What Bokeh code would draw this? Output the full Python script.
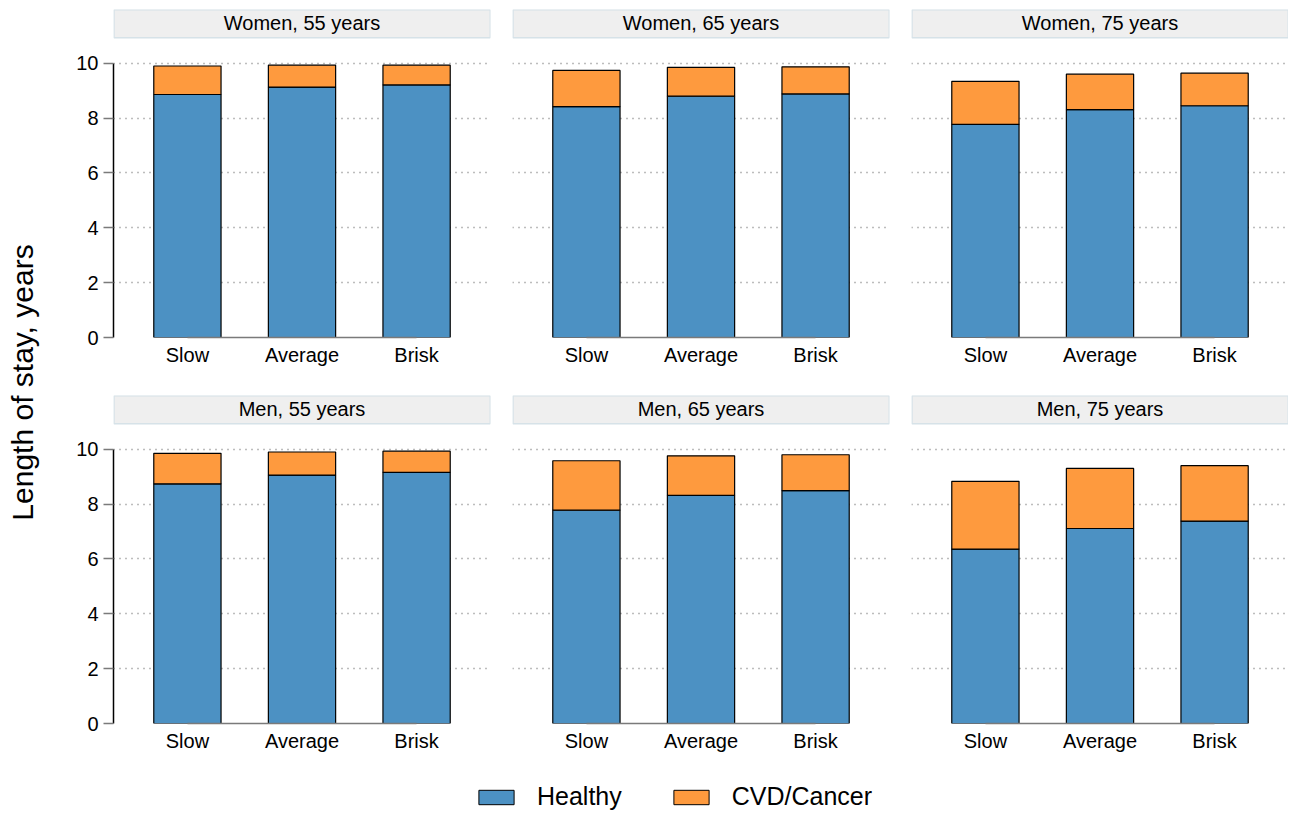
import math
from bokeh.plotting import figure
from bokeh.models import (FixedTicker, ColumnDataSource, Legend, LegendItem,
                          Label, Range1d)
from bokeh.layouts import row, column
from bokeh.embed import file_html
from bokeh.resources import INLINE
from bokeh.core.properties import value

# ---------------- data ----------------
categories = ["Slow", "Average", "Brisk"]
series_names = ["Healthy", "CVD/Cancer"]
panel_titles = ["Women, 55 years", "Women, 65 years", "Women, 75 years",
                "Men, 55 years", "Men, 65 years", "Men, 75 years"]

healthy_w55 = [8.86, 9.13, 9.21]
cvd_w55 = [1.04, 0.80, 0.72]
healthy_w65 = [8.42, 8.80, 8.88]
cvd_w65 = [1.32, 1.05, 0.99]
healthy_w75 = [7.77, 8.31, 8.45]
cvd_w75 = [1.57, 1.29, 1.19]
healthy_m55 = [8.74, 9.06, 9.16]
cvd_m55 = [1.11, 0.84, 0.77]
healthy_m65 = [7.78, 8.32, 8.49]
cvd_m65 = [1.80, 1.44, 1.31]
healthy_m75 = [6.36, 7.11, 7.38]
cvd_m75 = [2.47, 2.19, 2.02]

y_ticks = [0, 2, 4, 6, 8, 10]
y_label = "Length of stay, years"

# ---------------- style ----------------
FONT = "Liberation Sans"
BLUE = "#4C91C3"
ORANGE = "#FE9A3E"
GRAY = "#7A7A7A"
FRAME_W = 377
FRAME_H = 328
Y_END = 11.96

healthy_all = [healthy_w55, healthy_w65, healthy_w75, healthy_m55, healthy_m65, healthy_m75]
cvd_all = [cvd_w55, cvd_w65, cvd_w75, cvd_m55, cvd_m65, cvd_m75]


def make_panel(idx):
    col = idx % 3
    rw = idx // 3
    left = 55 if col == 0 else 11
    right = 0 if col == 2 else 11
    top = 9 if rw == 0 else 1
    bottom = 57 if rw == 0 else 40
    xr = Range1d(0.355, 3.645)
    p = figure(width=left + FRAME_W + right, height=top + FRAME_H + bottom,
               x_range=xr, y_range=Range1d(0, Y_END),
               output_backend="svg", toolbar_location=None,
               min_border_left=left, min_border_right=right,
               min_border_top=top, min_border_bottom=bottom)
    p.outline_line_color = None
    p.background_fill_color = "white"
    p.xgrid.visible = False
    p.ygrid.ticker = FixedTicker(ticks=y_ticks)
    p.ygrid.grid_line_color = GRAY
    p.ygrid.grid_line_dash = "1 5"
    p.ygrid.grid_line_width = 1.6

    xs = list(range(1, len(categories) + 1))
    src = ColumnDataSource(dict(x=xs, healthy=healthy_all[idx], cvd=cvd_all[idx]))
    p.vbar_stack(["healthy", "cvd"], x="x", width=0.587, source=src,
                 fill_color=[BLUE, ORANGE], line_color="black", line_width=1.2)

    # strip header
    p.quad(left=[xr.start + 0.004], right=[xr.end - 0.002],
           bottom=[10.93], top=[11.95],
           fill_color="#EFEFEF", line_color="#D6E2E8", line_width=1.5)
    p.text(x=[(xs[0] + xs[-1]) / 2], y=[11.46], text=[panel_titles[idx]],
           text_align="center", text_baseline="middle",
           text_font=value(FONT), text_font_size="20px", text_color="black")

    # x axis
    p.xaxis.ticker = FixedTicker(ticks=xs)
    p.xaxis.major_label_overrides = {x: c for x, c in zip(xs, categories)}
    p.xaxis.bounds = (xs[0], xs[-1])
    p.xaxis.axis_line_color = GRAY
    p.xaxis.axis_line_width = 1.5
    p.xaxis.major_tick_line_color = None
    p.xaxis.minor_tick_line_color = None
    p.xaxis.major_tick_out = 0
    p.xaxis.major_tick_in = 0
    p.xaxis.major_label_standoff = 6
    p.xaxis.major_label_text_font = FONT
    p.xaxis.major_label_text_font_size = "20px"
    p.xaxis.major_label_text_color = "black"

    # y axis
    if col == 0:
        p.yaxis.ticker = FixedTicker(ticks=y_ticks)
        p.yaxis.bounds = (y_ticks[0], y_ticks[-1])
        p.yaxis.axis_line_color = "black"
        p.yaxis.axis_line_width = 1.5
        p.yaxis.major_tick_line_color = GRAY
        p.yaxis.major_tick_line_width = 1.5
        p.yaxis.major_tick_out = 10
        p.yaxis.major_tick_in = 0
        p.yaxis.minor_tick_line_color = None
        p.yaxis.major_label_standoff = 5
        p.yaxis.major_label_text_font = FONT
        p.yaxis.major_label_text_font_size = "20px"
        p.yaxis.major_label_text_color = "black"
    else:
        p.yaxis.visible = False
    return p


panels = [make_panel(i) for i in range(6)]
rows_h = panels[0].height + panels[3].height

# y label figure
ylab = figure(width=58, height=rows_h, x_range=Range1d(0, 1), y_range=Range1d(0, 1),
              output_backend="svg", toolbar_location=None,
              min_border_left=0, min_border_right=0, min_border_top=0, min_border_bottom=0)
ylab.axis.visible = False
ylab.grid.visible = False
ylab.outline_line_color = None
ylab.add_layout(Label(x=22, y=rows_h - 382, x_units="screen", y_units="screen",
                      text=y_label, angle=math.pi / 2, text_align="center",
                      text_baseline="middle", text_font=FONT, text_font_size="30px",
                      text_color="black"))

# legend figure
total_w = ylab.width + sum(p.width for p in panels[:3])
leg = figure(width=total_w, height=48, x_range=Range1d(0, 1), y_range=Range1d(0, 1),
             output_backend="svg", toolbar_location=None,
             min_border_left=0, min_border_right=0, min_border_top=0, min_border_bottom=0)
leg.axis.visible = False
leg.grid.visible = False
leg.outline_line_color = None
r1 = leg.vbar(x=[0.5], top=[0.5], bottom=[0.5], width=0, fill_color=BLUE,
              line_color="black", line_width=1)
r2 = leg.vbar(x=[0.5], top=[0.5], bottom=[0.5], width=0, fill_color=ORANGE,
              line_color="black", line_width=1)
legend = Legend(items=[LegendItem(label=series_names[0], renderers=[r1]),
                       LegendItem(label=series_names[1], renderers=[r2])],
                orientation="horizontal", location=(474, 0),
                glyph_width=44, glyph_height=18, label_standoff=19, spacing=47,
                padding=0, margin=0, border_line_color=None, background_fill_alpha=0,
                label_text_font=FONT, label_text_font_size="25px",
                label_text_color="black", label_height=18)
leg.add_layout(legend, "center")

layout = column(row(ylab, column(row(*panels[:3]), row(*panels[3:]))), leg)

open("out.html", "w").write(file_html(layout, INLINE))
